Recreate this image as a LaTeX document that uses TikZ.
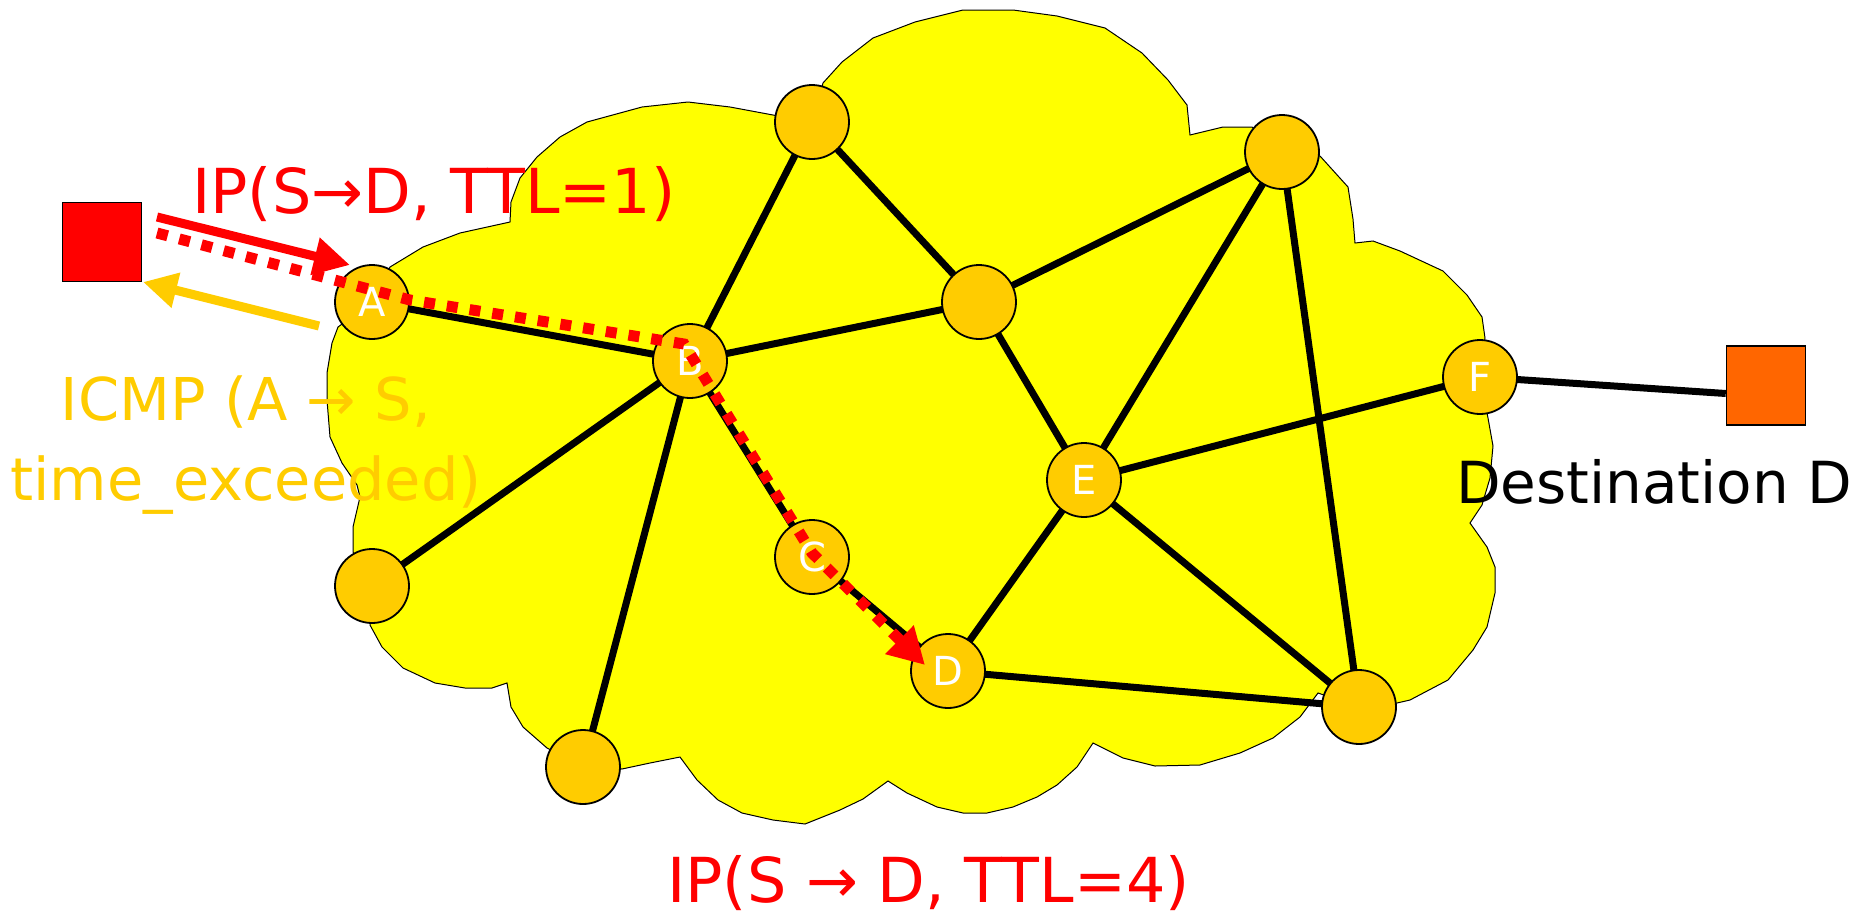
\documentclass[tikz,border=0pt]{standalone}
\usepackage{fontspec}
\setmainfont{DejaVu Sans}
\usetikzlibrary{arrows.meta}
\definecolor{cloudyellow}{HTML}{FFFF00}
\definecolor{routerfill}{HTML}{FFCC00}
\definecolor{pktred}{HTML}{FF0000}
\definecolor{icmporange}{HTML}{FFCC00}
\definecolor{destorange}{HTML}{FF6600}
\pgfdeclarelayer{bg}
\pgfsetlayers{bg,main}

\begin{document}
\begin{tikzpicture}[x=1pt,y=-1pt,
  router/.style={circle,draw=black,line width=1.8pt,fill=routerfill,
    minimum size=74pt,inner sep=0pt,text=white,
    font=\fontsize{40}{40}\selectfont},
  host/.style={rectangle,draw=black,line width=1.5pt,minimum size=79pt,inner sep=0pt},
  link/.style={line width=7pt,black},
  cloudshape/.style={fill=cloudyellow,draw=black,line width=1pt,line join=miter},
  probe/.style={line width=9pt,pktred,-{Triangle[length=36pt,width=36pt]}},
  probepath/.style={line width=11pt,pktred,dash pattern=on 11pt off 12pt,
    -{Triangle[length=36pt,width=38pt]}},
  reply/.style={line width=9pt,icmporange,-{Triangle[length=34pt,width=34pt]}},
  bigtext/.style={font=\fontsize{62}{70}\selectfont,inner sep=0pt},
  midtext/.style={font=\fontsize{59}{80}\selectfont,inner sep=0pt}
]
\useasboundingbox (0,0) rectangle (1864,914);

% routers
\node[router] (A)  at (372,302) {A};
\node[router] (B)  at (690,361) {B};
\node[router] (C)  at (812,557) {C};
\node[router] (D)  at (948,671) {D};
\node[router] (E)  at (1084,480) {E};
\node[router] (F)  at (1480,377) {F};
\node[router] (R1) at (812,122) {};
\node[router] (R2) at (979,302) {};
\node[router] (R3) at (1282,152) {};
\node[router] (R4) at (1359,707) {};
\node[router] (R5) at (372,586) {};
\node[router] (R6) at (583,767) {};

% end hosts
\node[host,fill=pktred] (S) at (102,242) {};
\node[host,fill=destorange] (Dst) at (1766,385.5) {};

\begin{pgfonlayer}{bg}
% the network cloud
\draw[cloudshape] (390,267) -- (423,247) -- (460,233) -- (510,222) -- (511,202)
  -- (520,178) -- (537,157) -- (560,137) -- (587,122) -- (642,107) -- (688,102)
  -- (730,107) -- (773,115) -- (812,122) -- (823,83) -- (842,62) -- (873,38)
  -- (915,22) -- (963,10) -- (1013,10) -- (1057,16) -- (1105,28) -- (1142,53)
  -- (1168,80) -- (1187,105) -- (1190,135) -- (1223,127) -- (1252,127)
  -- (1282,152) -- (1320,156) -- (1348,187) -- (1353,219) -- (1355,243)
  -- (1373,241) -- (1400,251) -- (1443,271) -- (1467,295) -- (1482,317)
  -- (1485,338) -- (1480,378) -- (1488,418) -- (1493,446) -- (1490,478)
  -- (1482,505) -- (1470,523) -- (1487,547) -- (1495,567) -- (1495,593)
  -- (1487,627) -- (1473,650) -- (1448,680) -- (1410,700) -- (1397,703)
  -- (1359,707) -- (1318,693) -- (1300,717) -- (1273,738) -- (1240,753)
  -- (1200,765) -- (1155,766) -- (1123,758) -- (1093,743) -- (1077,767)
  -- (1057,785) -- (1037,797) -- (1013,807) -- (987,813) -- (963,813)
  -- (937,807) -- (907,793) -- (888,781) -- (863,799) -- (840,810)
  -- (805,824) -- (773,820) -- (742,813) -- (718,800) -- (697,780)
  -- (680,757) -- (650,763) -- (622,769) -- (583,767) -- (547,748)
  -- (523,727) -- (511,707) -- (507,683) -- (492,688) -- (465,688)
  -- (435,683) -- (403,668) -- (382,647) -- (370,625) -- (372,586)
  -- (353,552) -- (353,527) -- (360,497) -- (357,485) -- (342,463)
  -- (330,437) -- (327,400) -- (327,373) -- (332,343) -- (338,327)
  -- (372,302) -- cycle;

% links
\draw[link] (A.center) -- (B.center);
\draw[link] (B.center) -- (R1.center);
\draw[link] (B.center) -- (R2.center);
\draw[link] (B.center) -- (R5.center);
\draw[link] (B.center) -- (R6.center);
\draw[link] (B.center) -- (C.center);
\draw[link] (C.center) -- (D.center);
\draw[link] (R1.center) -- (R2.center);
\draw[link] (R2.center) -- (R3.center);
\draw[link] (R2.center) -- (E.center);
\draw[link] (R3.center) -- (E.center);
\draw[link] (R3.center) -- (R4.center);
\draw[link] (E.center) -- (F.center);
\draw[link] (E.center) -- (D.center);
\draw[link] (E.center) -- (R4.center);
\draw[link] (D.center) -- (R4.center);
\draw[link] (F.center) -- ([yshift=-8pt]Dst.west);
\end{pgfonlayer}

% probe with TTL=1, its path, and the ICMP reply
\coordinate (t1s) at (157,217);
\coordinate (t1e) at (350,265);
\draw[probe] (t1s) -- (t1e);

\coordinate (p0) at (157,233);
\coordinate (p1) at (410,300);
\coordinate (p2) at (684,344);
\coordinate (p3) at (812,553);
\coordinate (p4) at (925,665);
\draw[probepath] (p0) -- (p1) -- (p2) -- (p3) -- (p4);

\coordinate (rs) at (319,326);
\coordinate (re) at (143,282);
\draw[reply] (rs) -- (re);

% labels
\node[bigtext,text=pktred,anchor=base west] (lbl1) at (192,213) {IP(S→D, TTL=1)};
\node[midtext,text=icmporange,align=center,anchor=base] (lbl2) at (246,500)
  {ICMP (A → S,\\time\_exceeded)};
\node[bigtext,text=pktred,anchor=base west] (lbl3) at (667,902) {IP(S → D, TTL=4)};
\node[font=\fontsize{58}{70}\selectfont,inner sep=0pt,anchor=base west] (lbl4)
  at (1456,503) {Destination D};
\end{tikzpicture}
\end{document}
